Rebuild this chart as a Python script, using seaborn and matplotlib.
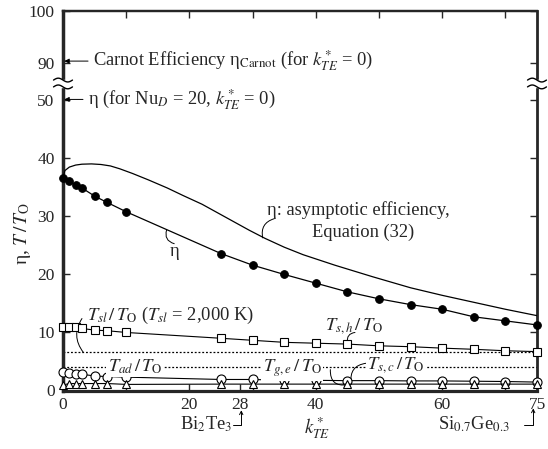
import numpy as np
import pandas as pd
import matplotlib
matplotlib.use("Agg")
import matplotlib.pyplot as plt
import matplotlib.transforms as mtransforms
import seaborn as sns

# ---------------- data ----------------
k_te = [0, 1, 2, 3, 5, 7, 10, 25, 30, 35, 40, 45, 50, 55, 60, 65, 70, 75]
eta = [36.7, 36.1, 35.4, 34.9, 33.5, 32.4, 30.8, 23.6, 21.6, 20.0, 18.5, 17.0,
       15.8, 14.8, 14.0, 12.7, 12.0, 11.3]
ts_h = [10.9, 10.9, 10.9, 10.7, 10.4, 10.3, 10.0, 9.0, 8.65, 8.3, 8.15, 8.0,
        7.7, 7.55, 7.3, 7.1, 6.85, 6.7]
tg_e = [3.2, 2.95, 2.85, 2.8, 2.5, 2.4, 2.3, 1.9, 1.9, 1.75, 1.75, 1.7,
        1.7, 1.65, 1.65, 1.6, 1.55, 1.45]
ts_c = [0.95, 1.2, 1.2, 1.2, 1.2, 1.2, 1.05, 1.1, 1.1, 1.1, 1.1, 1.1,
        1.1, 1.1, 1.1, 1.1, 1.1, 1.1]
k_asym = [0, 0.3, 1, 2, 3, 4.5, 6, 7.5, 9, 11, 13.5, 16.5, 19, 22, 24.5, 27,
          29.5, 32, 35, 38, 43, 49, 55, 60, 65, 70, 75]
eta_asym = [36.7, 37.9, 38.5, 38.85, 39.0, 39.05, 38.95, 38.7, 38.2, 37.4,
            36.3, 34.9, 33.6, 32.1, 30.6, 29.1, 27.6, 26.2, 24.7, 23.4, 21.6,
            19.6, 17.7, 16.4, 15.2, 14.0, 12.9]
t_sl = 6.6            # T_sl / T_O
t_ad = 4.1            # T_ad / T_O
eta_carnot = 90.3
eta_nu20 = 51.0

x_ticks = [0, 20, 28, 40, 60, 75]
x_ticks_minor = [10, 30, 50, 70]
x_ticks_top = [10, 20, 30, 40, 50, 60, 70]
y_ticks = [0, 10, 20, 30, 40, 50, 90, 100]

# ---------------- style ----------------
sns.set_style("ticks")
plt.rcParams["font.family"] = ["Liberation Serif", "DejaVu Serif"]
plt.rcParams["mathtext.fontset"] = "stix"
plt.rcParams["font.size"] = 12

fig = plt.figure(figsize=(5.48, 4.49), dpi=100)
ax = fig.add_axes([63 / 548, (449 - 390.5) / 449, 474 / 548, 379.5 / 449])

# broken y axis through a piecewise-linear scale
y_in = [0, 50, 90, 100]
y_out = [0, 50, 56.5, 65.4]


def fwd(y):
    return np.interp(y, y_in, y_out)


def inv(t):
    return np.interp(t, y_out, y_in)


ax.set_yscale("function", functions=(fwd, inv))

df = pd.DataFrame({"k": k_te, "eta": eta, "tsh": ts_h, "tge": tg_e, "tsc": ts_c})
dfa = pd.DataFrame({"k": k_asym, "eta": eta_asym})

sns.lineplot(data=dfa, x="k", y="eta", ax=ax, color="k", lw=0.9, zorder=3)
sns.lineplot(data=df, x="k", y="eta", ax=ax, color="k", lw=0.9, marker="o",
             markersize=5.5, markerfacecolor="k", markeredgecolor="k",
             zorder=4, clip_on=False)
sns.lineplot(data=df, x="k", y="tsh", ax=ax, color="k", lw=0.8, marker="s",
             markersize=5.5, markerfacecolor="white", markeredgecolor="k",
             markeredgewidth=0.8, zorder=4, clip_on=False)
sns.lineplot(data=df, x="k", y="tge", ax=ax, color="k", lw=0.8, marker="o",
             markersize=6.5, markerfacecolor="white", markeredgecolor="k",
             markeredgewidth=0.8, zorder=4, clip_on=False)
sns.lineplot(data=df, x="k", y="tsc", ax=ax, color="k", lw=0.8, marker="^",
             markersize=5.5, markerfacecolor="white", markeredgecolor="k",
             markeredgewidth=0.8, zorder=5, clip_on=False)

ax.axhline(t_sl, color="k", lw=0.9, ls=(0, (1.5, 1.5)), zorder=2)
ax.axhline(t_ad, color="k", lw=0.9, ls=(0, (1.5, 1.5)), zorder=2)

ax.set_xlim(0, 75)
ax.set_ylim(0, 100)

# ticks
ax.set_xticks(x_ticks)
ax.set_xticks(x_ticks_minor, minor=True)
ax.set_yticks(y_ticks)
ax.tick_params(axis="both", which="both", direction="in", length=5, width=1,
               labelsize=12.5, right=True)
ax.tick_params(axis="x", pad=5)
ax.tick_params(axis="y", pad=6)
top = ax.secondary_xaxis("top")
top.set_xticks(x_ticks_top)
top.tick_params(direction="in", length=5, width=1, labeltop=False)
top.spines["top"].set_linewidth(1.6)

for side, w in [("left", 2.5), ("bottom", 2.3), ("right", 2.0), ("top", 1.6)]:
    ax.spines[side].set_linewidth(w)
    ax.spines[side].set_visible(True)

ax.set_xlabel(r"$k^*_{TE}$", fontsize=13.5)
ax.xaxis.set_label_coords((317 - 63) / 474, -0.099)
ax.xaxis.label.set_va("center")
ax.set_ylabel(r"η, $T\,/\,T_{\rm O}$", fontsize=14)
ax.yaxis.set_label_coords(-0.086, 0.415)
ax.yaxis.label.set_va("center")

# axis break marks
for xa in (0.0, 1.0):
    ax.add_patch(plt.Rectangle((xa - 0.008, 0.801), 0.016, 0.016,
                               transform=ax.transAxes, color="white",
                               clip_on=False, zorder=10))
    xs = np.linspace(xa - 0.02, xa + 0.02, 40)
    for yb in (0.818, 0.800):
        ys = yb + 0.005 * np.sin((xs - xa + 0.02) / 0.04 * 2 * np.pi)
        ax.plot(xs, ys, color="k", lw=1.0, transform=ax.transAxes,
                clip_on=False, zorder=11)

# annotations
arr = dict(arrowstyle="-|>", lw=0.7, color="k", mutation_scale=7,
           shrinkA=1, shrinkB=0)
ax.annotate(r"Carnot Efficiency η$_{\rm Carnot}$ (for $k^*_{TE}$ = 0)",
            xy=(0.2, eta_carnot), xytext=(4.7, eta_carnot), ha="left",
            va="center", fontsize=13.3, arrowprops=arr)
ax.annotate(r"η (for Nu$_D$ = 20, $k^*_{TE}$ = 0)",
            xy=(0.2, eta_nu20), xytext=(3.9, eta_nu20), ha="left",
            va="center", fontsize=13.3, arrowprops=arr)

lead = dict(arrowstyle="-", lw=0.7, color="k", shrinkA=0, shrinkB=0)
ax.text(32.3, 31.1, "η: asymptotic efficiency,", ha="left", va="center",
        fontsize=13.3)
ax.text(39.4, 27.3, "Equation (32)", ha="left", va="center", fontsize=13.3)
ax.annotate("", xy=(31.6, 26.3), xytext=(33.4, 29.6),
            arrowprops=dict(lead, connectionstyle="arc3,rad=0.45"))

ax.text(17.7, 24.0, "η", ha="center", va="center", fontsize=13.3)
ax.annotate("", xy=(16.4, 27.7), xytext=(17.6, 25.3),
            arrowprops=dict(lead, connectionstyle="arc3,rad=-0.5"))

ax.text(3.8, 13.0, r"$T_{sl}\,/\,T_{\rm O}$ ($T_{sl}$ = 2,000 K)", ha="left",
        va="center", fontsize=13.3)
ax.annotate("", xy=(3.2, t_sl), xytext=(3.0, 12.4),
            arrowprops=dict(lead, connectionstyle="arc3,rad=0.35"))

ax.text(41.5, 11.1, r"$T_{s,h}\,/\,T_{\rm O}$", ha="left", va="center",
        fontsize=13.3)
ax.annotate("", xy=(45.0, 8.3), xytext=(46.2, 10.0),
            arrowprops=dict(lead, connectionstyle="arc3,rad=0.5"))

wb = dict(facecolor="white", edgecolor="none", pad=1.0)
ax.text(7.1, t_ad, r"$T_{ad}\,/\,T_{\rm O}$", ha="left", va="center",
        fontsize=13.3, bbox=wb, zorder=6)
ax.text(31.6, t_ad - 0.3, r"$T_{g,e}\,/\,T_{\rm O}$", ha="left", va="center",
        fontsize=13.3, bbox=wb, zorder=6)
ax.text(48.1, t_ad + 0.3, r"$T_{s,c}\,/\,T_{\rm O}$", ha="left", va="center",
        fontsize=13.3, bbox=wb, zorder=6)
ax.annotate("", xy=(45.0, 1.0), xytext=(42.3, 3.6),
            arrowprops=dict(lead, connectionstyle="arc3,rad=0.6"))
ax.annotate("", xy=(45.6, 1.3), xytext=(48.0, 4.7),
            arrowprops=dict(lead, connectionstyle="arc3,rad=0.5"))

# material markers under the x axis
bt = mtransforms.blended_transform_factory(ax.transData, ax.transAxes)
ax.text(18.5, -0.090, r"Bi$_2$Te$_3$", transform=bt, ha="left", va="center",
        fontsize=13.3)
ax.annotate("", xy=(28.2, -0.052), xytext=(26.9, -0.090), xycoords=bt,
            textcoords=bt,
            arrowprops=dict(arrowstyle="->", lw=0.7, color="k",
                            mutation_scale=6, shrinkA=0, shrinkB=0,
                            connectionstyle="angle,angleA=0,angleB=90,rad=0"))
ax.text(59.3, -0.090, r"Si$_{0.7}$Ge$_{0.3}$", transform=bt, ha="left",
        va="center", fontsize=13.3)
ax.annotate("", xy=(74.4, -0.047), xytext=(72.9, -0.090), xycoords=bt,
            textcoords=bt,
            arrowprops=dict(arrowstyle="->", lw=0.7, color="k",
                            mutation_scale=6, shrinkA=0, shrinkB=0,
                            connectionstyle="angle,angleA=0,angleB=90,rad=0"))

fig.savefig("out.png", dpi=100)
